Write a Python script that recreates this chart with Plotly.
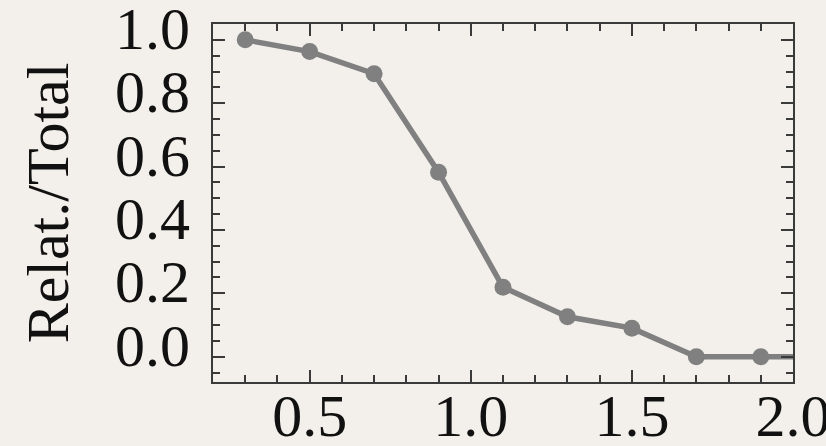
import plotly.graph_objects as go

x_vals = [0.3, 0.5, 0.7, 0.9, 1.1, 1.3, 1.5, 1.7, 1.9, 2.1]
y_vals = [1.0, 0.963, 0.893, 0.582, 0.219, 0.126, 0.090, 0.0, 0.0, 0.0]
marker_sizes = [17, 17, 17, 17, 17, 17, 17, 17, 17, 0]

x_ticks = [0.5, 1.0, 1.5, 2.0]
x_labels = ["0.5", "1.0", "1.5", "2.0"]
y_ticks = [0.0, 0.2, 0.4, 0.6, 0.8, 1.0]
y_labels = ["0.0", "0.2", "0.4", "0.6", "0.8", "1.0"]

bg = "#f3f0eb"
axis_col = "#3a3a3a"
font_family = "Liberation Serif"
fsize = 60

fig = go.Figure()
fig.add_trace(go.Scatter(
    x=x_vals, y=y_vals, mode="lines+markers",
    line=dict(color="#808080", width=5.5),
    marker=dict(color="#808080", size=marker_sizes, opacity=1, line=dict(width=0)),
    opacity=1, cliponaxis=True, showlegend=False,
))

fig.update_layout(
    width=826, height=446,
    margin=dict(l=213, r=33, t=24, b=64, pad=0),
    paper_bgcolor=bg, plot_bgcolor=bg,
    font=dict(family=font_family, color="#111111", size=fsize),
    xaxis=dict(
        range=[0.2, 2.0], tickvals=x_ticks, ticktext=x_labels,
        ticks="inside", ticklen=12, tickwidth=1.5, tickcolor=axis_col,
        showline=True, linecolor=axis_col, linewidth=2, mirror="ticks",
        showgrid=False, zeroline=False, automargin=False,
        ticklabeloverflow="allow", ticklabelstandoff=-20,
        tickfont=dict(family=font_family, size=fsize, color="#111111"),
        minor=dict(dtick=0.1, tick0=0, ticks="inside", ticklen=7,
                   tickwidth=1.5, tickcolor=axis_col, showgrid=False),
    ),
    yaxis=dict(
        range=[-0.08, 1.05], tickvals=y_ticks, ticktext=y_labels,
        ticks="inside", ticklen=12, tickwidth=1.5, tickcolor=axis_col,
        showline=True, linecolor=axis_col, linewidth=2, mirror="ticks",
        showgrid=False, zeroline=False, automargin=False,
        ticklabeloverflow="allow", ticklabelstandoff=9, ticklabelshift=-12,
        tickfont=dict(family=font_family, size=fsize, color="#111111"),
        minor=dict(dtick=0.05, tick0=0, ticks="inside", ticklen=7,
                   tickwidth=1.5, tickcolor=axis_col, showgrid=False),
        title=dict(text="Relat./Total", font=dict(family=font_family, size=fsize, color="#111111"),
                   standoff=27),
    ),
)

fig.write_html("out.html")
